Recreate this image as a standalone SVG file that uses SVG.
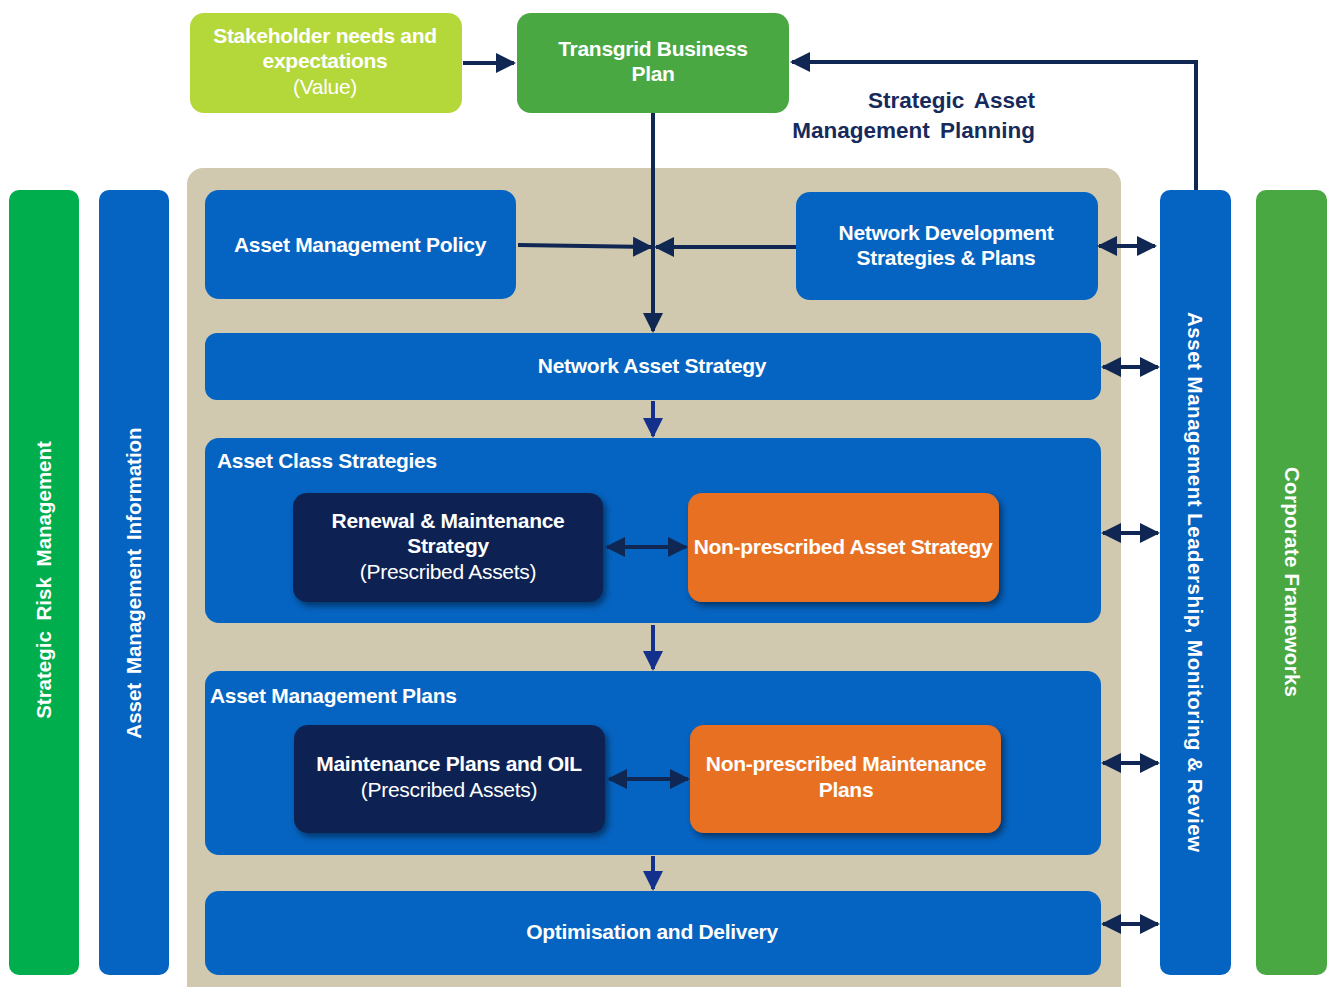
<svg xmlns="http://www.w3.org/2000/svg" width="1328" height="987" viewBox="0 0 1328 987">
<style>
.t{font-family:"Liberation Sans",Arial,sans-serif;font-weight:bold;fill:#fff;font-size:21px;text-anchor:middle;letter-spacing:-0.3px}
.n{font-weight:normal}
.h{font-family:"Liberation Sans",Arial,sans-serif;font-weight:bold;fill:#fff;font-size:21px;letter-spacing:-0.3px}
.v{font-family:"Liberation Sans",Arial,sans-serif;font-weight:bold;fill:#fff;font-size:20.5px;text-anchor:middle}
.s{font-family:"Liberation Sans",Arial,sans-serif;font-weight:bold;font-size:22.5px;fill:#172a5c;text-anchor:end;word-spacing:4px}
.blue{fill:#0563c1}
.ln{stroke:#0f2752;stroke-width:4;fill:none}
.ln2{stroke:#13318c;stroke-width:4;fill:none}
</style>
<defs>
<marker id="a" viewBox="0 0 10 10" refX="9" refY="5" markerWidth="5" markerHeight="5" orient="auto-start-reverse" markerUnits="strokeWidth"><path d="M0,0 L10,5 L0,10 Z" fill="#0f2752"/></marker>
<marker id="b" viewBox="0 0 10 10" refX="9" refY="5" markerWidth="5" markerHeight="5" orient="auto-start-reverse" markerUnits="strokeWidth"><path d="M0,0 L10,5 L0,10 Z" fill="#13318c"/></marker>
<filter id="sh" x="-10%" y="-10%" width="125%" height="130%"><feDropShadow dx="3" dy="4" stdDeviation="3" flood-color="#000" flood-opacity="0.45"/></filter>
</defs>
<rect width="1328" height="987" fill="#fff"/>
<rect x="187" y="168" width="934" height="840" rx="16" fill="#d1c9af"/>

<g id="stakeholder"><rect x="190" y="13" width="272" height="100" rx="14" fill="#b4d739"/>
<text class="t" x="325" y="43">Stakeholder needs and</text><text class="t" x="325" y="68">expectations</text><text class="t n" x="325" y="94">(Value)</text></g>
<g id="business-plan"><rect x="517" y="13" width="272" height="100" rx="14" fill="#4aa843"/>
<text class="t" x="653" y="56">Transgrid Business</text><text class="t" x="653" y="81">Plan</text></g>
<g id="samp-label"><text class="s" x="1035" y="108">Strategic Asset</text>
<text class="s" x="1035" y="138">Management Planning</text></g>

<g id="strategic-risk"><rect x="9" y="190" width="70" height="785" rx="10" fill="#00ae4d"/>
<text class="v" transform="translate(51,580) rotate(-90)" word-spacing="5">Strategic Risk Management</text></g>
<g id="am-information"><rect x="99" y="190" width="70" height="785" rx="10" class="blue"/>
<text class="v" transform="translate(141,583) rotate(-90)" word-spacing="3">Asset Management Information</text></g>
<g id="am-leadership"><rect x="1160" y="190" width="71" height="785" rx="10" class="blue"/>
<text class="v" transform="translate(1188,582) rotate(90)" textLength="540" lengthAdjust="spacing">Asset Management Leadership, Monitoring &amp; Review</text></g>
<g id="corporate"><rect x="1256" y="190" width="71" height="785" rx="10" fill="#4aa843"/>
<text class="v" transform="translate(1285,582) rotate(90)" textLength="230" lengthAdjust="spacing">Corporate Frameworks</text></g>

<g id="am-policy"><rect x="205" y="190" width="311" height="109" rx="14" class="blue"/>
<text class="t" x="360" y="252">Asset Management Policy</text></g>
<g id="network-development"><rect x="796" y="192" width="302" height="108" rx="14" class="blue"/>
<text class="t" x="946" y="240">Network Development</text><text class="t" x="946" y="265">Strategies &amp; Plans</text></g>
<g id="network-asset-strategy"><rect x="205" y="333" width="896" height="67" rx="12" class="blue"/>
<text class="t" x="652" y="373">Network Asset Strategy</text></g>
<g id="asset-class-strategies"><rect x="205" y="438" width="896" height="185" rx="14" class="blue"/>
<text class="h" x="217" y="468">Asset Class Strategies</text></g>
<g id="renewal-maintenance"><rect x="293" y="493" width="310" height="109" rx="14" fill="#0e2352" filter="url(#sh)"/>
<text class="t" x="448" y="528">Renewal &amp; Maintenance</text><text class="t" x="448" y="553">Strategy</text><text class="t n" x="448" y="579">(Prescribed Assets)</text></g>
<g id="nonprescribed-strategy"><rect x="688" y="493" width="311" height="109" rx="14" fill="#e86f22" filter="url(#sh)"/>
<text class="t" x="843" y="554">Non-prescribed Asset Strategy</text></g>
<g id="asset-management-plans"><rect x="205" y="671" width="896" height="184" rx="14" class="blue"/>
<text class="h" x="210" y="703">Asset Management Plans</text></g>
<g id="maintenance-plans"><rect x="294" y="725" width="311" height="108" rx="14" fill="#0e2352" filter="url(#sh)"/>
<text class="t" x="449" y="771">Maintenance Plans and OIL</text><text class="t n" x="449" y="797">(Prescribed Assets)</text></g>
<g id="nonprescribed-plans"><rect x="690" y="725" width="311" height="108" rx="14" fill="#e86f22" filter="url(#sh)"/>
<text class="t" x="846" y="771">Non-prescribed Maintenance</text><text class="t" x="846" y="797">Plans</text></g>
<g id="optimisation"><rect x="205" y="891" width="896" height="84" rx="14" class="blue"/>
<text class="t" x="652" y="939">Optimisation and Delivery</text></g>

<g id="connectors">
<path class="ln" d="M463,63 H514" marker-end="url(#a)"/>
<path class="ln" d="M1196,190 V62 H792" marker-end="url(#a)"/>
<path class="ln" d="M653,113 V331" marker-end="url(#a)"/>
<path class="ln" d="M518,245 L651,247" marker-end="url(#a)"/>
<path class="ln" d="M796,247 H656" marker-end="url(#a)"/>
<path class="ln" d="M1099,246 H1155" marker-start="url(#a)" marker-end="url(#a)"/>
<path class="ln" d="M1103,367 H1158" marker-start="url(#a)" marker-end="url(#a)"/>
<path class="ln" d="M1103,533 H1158" marker-start="url(#a)" marker-end="url(#a)"/>
<path class="ln" d="M1103,763 H1158" marker-start="url(#a)" marker-end="url(#a)"/>
<path class="ln" d="M1103,924 H1158" marker-start="url(#a)" marker-end="url(#a)"/>
<path class="ln" d="M607,547 H686" marker-start="url(#a)" marker-end="url(#a)"/>
<path class="ln" d="M609,779 H688" marker-start="url(#a)" marker-end="url(#a)"/>
<path class="ln2" d="M653,401 V436" marker-end="url(#b)"/>
<path class="ln2" d="M653,625 V669" marker-end="url(#b)"/>
<path class="ln2" d="M653,856 V889" marker-end="url(#b)"/>
</g>
</svg>
